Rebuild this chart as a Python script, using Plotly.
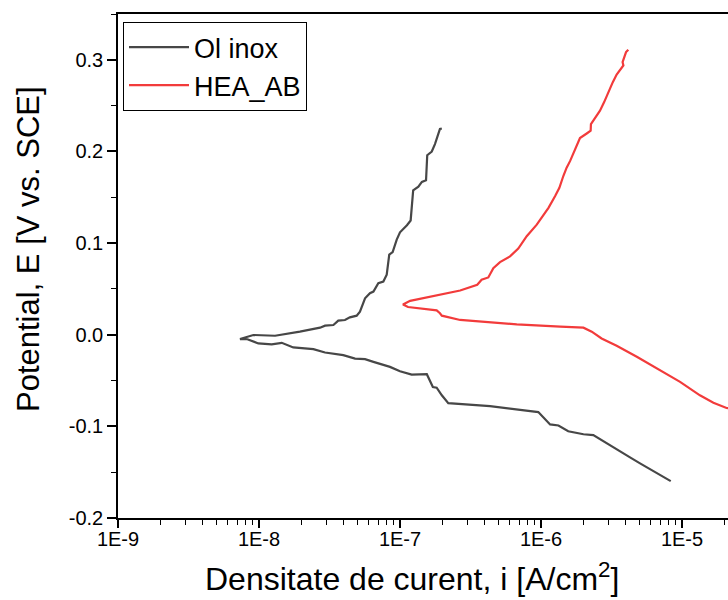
import plotly.graph_objects as go

# Ol inox: current density (A/cm2) and potential (V vs SCE)
inox_i = [8.32e-6, 6.98e-6, 5.93e-6, 5.04e-6, 4.28e-6, 3.63e-6, 2.92e-6, 2.35e-6, 2.00e-6,
          1.56e-6, 1.33e-6, 1.16e-6, 9.57e-7, 6.03e-7, 4.35e-7, 2.20e-7, 1.98e-7, 1.82e-7,
          1.71e-7, 1.55e-7, 1.21e-7, 1.00e-7, 8.49e-8, 6.48e-8, 5.65e-8, 4.80e-8, 3.96e-8,
          2.94e-8, 2.43e-8, 1.75e-8, 1.45e-8, 1.23e-8, 9.89e-9, 8.19e-9, 7.33e-9,
          9.12e-9, 1.30e-8, 1.95e-8, 2.37e-8, 2.71e-8, 2.94e-8, 3.37e-8, 3.65e-8, 4.07e-8,
          4.41e-8, 4.93e-8, 5.20e-8, 5.65e-8, 6.12e-8, 6.48e-8, 7.02e-8, 7.62e-8, 8.05e-8,
          8.39e-8, 8.87e-8, 9.48e-8, 1.00e-7, 1.08e-7, 1.12e-7, 1.19e-7, 1.24e-7, 1.35e-7,
          1.43e-7, 1.53e-7, 1.56e-7, 1.68e-7, 1.77e-7, 1.92e-7, 1.98e-7]
inox_E = [-0.1598, -0.1532, -0.1466, -0.1404, -0.1338, -0.1272, -0.1181, -0.1096, -0.1086,
          -0.1053, -0.0990, -0.0979, -0.0844, -0.0808, -0.0779, -0.0746, -0.0661, -0.0578,
          -0.0570, -0.0431, -0.0435, -0.0398, -0.0351, -0.0296, -0.0266, -0.0260, -0.0223,
          -0.0194, -0.0157, -0.0139, -0.0088, -0.0106, -0.0095, -0.0047, -0.0047,
          -0.0003, -0.0011, 0.0033, 0.0063, 0.0077, 0.0099, 0.0106, 0.0154, 0.0161,
          0.0190, 0.0208, 0.0252, 0.0398, 0.0453, 0.0471, 0.0563, 0.0581, 0.0655,
          0.0874, 0.0902, 0.1038, 0.1118, 0.1166, 0.1195, 0.1247, 0.1576, 0.1615,
          0.1667, 0.1685, 0.1959, 0.1999, 0.2080, 0.2245, 0.2251]

# HEA_AB
hea_i = [2.38e-5, 2.07e-5, 1.67e-5, 1.34e-5, 9.69e-6, 6.98e-6, 4.78e-6, 3.44e-6, 2.69e-6,
         2.29e-6, 2.00e-6, 1.37e-6, 6.73e-7, 2.67e-7, 1.98e-7, 1.92e-7, 1.82e-7, 1.14e-7,
         1.05e-7, 1.18e-7, 1.46e-7, 2.67e-7, 3.53e-7, 3.79e-7, 4.23e-7, 4.59e-7, 5.12e-7,
         6.03e-7, 6.90e-7, 7.92e-7, 9.33e-7, 1.13e-6, 1.26e-6, 1.35e-6, 1.44e-6, 1.52e-6,
         1.61e-6, 1.74e-6, 1.89e-6, 2.11e-6, 2.25e-6, 2.26e-6, 2.42e-6, 2.62e-6, 2.80e-6,
         3.00e-6, 3.23e-6, 3.44e-6, 3.63e-6, 3.84e-6, 3.79e-6, 3.88e-6, 3.94e-6, 4.01e-6,
         4.16e-6]
hea_E = [-0.0811, -0.0800, -0.0742, -0.0661, -0.0515, -0.0387, -0.0241, -0.0121, -0.0041,
         0.0033, 0.0077, 0.0088, 0.0113, 0.0161, 0.0208, 0.0234, 0.0266, 0.0302,
         0.0329, 0.0370, 0.0398, 0.0482, 0.0545, 0.0600, 0.0625, 0.0727, 0.0793,
         0.0855, 0.0940, 0.1075, 0.1201, 0.1385, 0.1513, 0.1604, 0.1732, 0.1823,
         0.1897, 0.2018, 0.2146, 0.2196, 0.2226, 0.2299, 0.2372, 0.2445, 0.2536,
         0.2646, 0.2756, 0.2840, 0.2884, 0.2939, 0.2975, 0.3030, 0.3067, 0.3084,
         0.3111]

x_tickvals = [1e-9, 1e-8, 1e-7, 1e-6, 1e-5]
x_ticktext = ["1E-9", "1E-8", "1E-7", "1E-6", "1E-5"]
y_tickvals = [-0.2, -0.1, 0.0, 0.1, 0.2, 0.3]
y_ticktext = ["-0.2", "-0.1", "0.0", "0.1", "0.2", "0.3"]

x_title = "Densitate de curent, i [A/cm<sup>2</sup>]"
y_title = "Potential, E [V vs. SCE]"

FONT = "Liberation Sans, Arial, sans-serif"

fig = go.Figure()
fig.add_trace(go.Scatter(x=inox_i, y=inox_E, mode="lines", name="Ol inox",
                         line=dict(color="#474747", width=2.2)))
fig.add_trace(go.Scatter(x=hea_i, y=hea_E, mode="lines", name="HEA_AB",
                         line=dict(color="#F23B3B", width=2.2)))

minor_x = [k * 10.0 ** e for e in range(-9, -4) for k in range(2, 10)]

W, H = 728, 600
ml, mr, mt, mb = 118, 0, 14, 82
pw = W - ml - mr
ph = H - mt - mb
xmax = -9 + pw / 141.0

fig.update_layout(
    width=W, height=H,
    margin=dict(l=ml, r=mr, t=mt, b=mb),
    paper_bgcolor="white", plot_bgcolor="white",
    font=dict(family=FONT, color="black"),
    showlegend=True,
    legend=dict(x=(123 - ml) / pw, y=1 - (22 - mt) / ph,
                xanchor="left", yanchor="top",
                bordercolor="black", borderwidth=1, bgcolor="white",
                font=dict(size=27, family=FONT), tracegroupgap=0,
                itemwidth=60),
    annotations=[
        dict(text=x_title, xref="paper", yref="paper",
             x=(412 - ml) / pw, y=(H - mb - 577) / ph,
             xanchor="center", yanchor="middle", showarrow=False,
             font=dict(size=32, family=FONT)),
        dict(text=y_title, xref="paper", yref="paper",
             x=(28 - ml) / pw, y=(H - mb - 249) / ph,
             xanchor="center", yanchor="middle", showarrow=False, textangle=-90,
             font=dict(size=31, family=FONT)),
    ],
)
fig.update_xaxes(
    type="log", range=[-9, xmax],
    tickvals=x_tickvals, ticktext=x_ticktext,
    ticks="outside", ticklen=8, tickwidth=1.5, tickcolor="black",
    ticklabelstandoff=-6,
    showline=True, linecolor="black", linewidth=1.5, mirror=True,
    showgrid=False, zeroline=False,
    tickfont=dict(size=20, family=FONT),
    minor=dict(tickvals=minor_x, ticks="outside", ticklen=5, tickwidth=1.2,
               tickcolor="black", showgrid=False),
)
fig.update_yaxes(
    range=[-0.2, 0.35],
    tickvals=y_tickvals, ticktext=y_ticktext,
    ticks="outside", ticklen=9, tickwidth=1.5, tickcolor="black",
    showline=True, linecolor="black", linewidth=1.5, mirror=False,
    showgrid=False, zeroline=False,
    tickfont=dict(size=20, family=FONT),
    minor=dict(dtick=0.05, tick0=0, ticks="outside", ticklen=5, tickwidth=1.2,
               tickcolor="black", showgrid=False),
)

fig.write_html("out.html")
